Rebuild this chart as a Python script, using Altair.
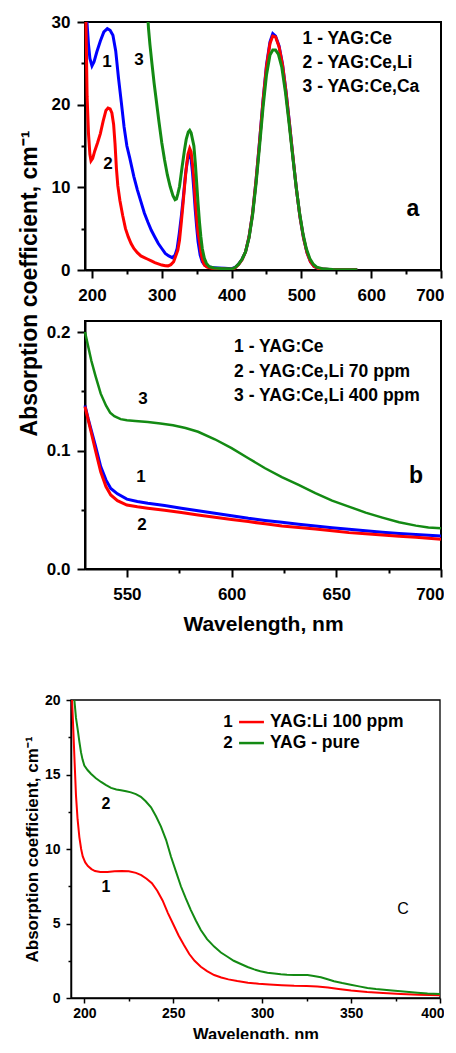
import altair as alt
import pandas as pd

FONT = "Liberation Sans"
BLUE, RED, GREEN = "#0000ff", "#ff0000", "#138a13"

# ---------------- panel a : (wavelength nm, absorption cm-1) ----------------
A_CE = [(192.8, 30), (195, 27.3), (197, 25.6), (200, 24.7), (203, 25.2),
        (207, 26.4), (212, 27.7), (217, 28.8), (222, 29.2), (226, 29.0), (230, 28.4), (234, 26.5),
        (238, 23.2), (242, 20.3), (246, 17.3), (250, 15.0), (254, 13.6), (260, 11.3), (265, 9.7),
        (270, 8.3), (275, 6.9), (280, 5.8), (285, 4.8), (290, 4.0), (295, 3.2), (300, 2.6),
        (305, 2.0), (310, 1.7), (315, 1.5), (319, 1.8), (322, 2.6), (325, 4.4), (328, 6.5),
        (331, 8.9), (334, 11.6), (337, 13.4), (339.5, 14.1), (342, 13.4), (344, 11.8), (346, 9.6),
        (348, 7.2), (350, 5.2), (352, 3.4), (355, 1.8), (358, 1.0), (362, 0.55), (366, 0.4),
        (372, 0.3), (380, 0.25), (390, 0.2), (400, 0.15), (405, 0.3), (410, 0.7), (415, 1.3),
        (420, 2.2), (425, 4.0), (430, 6.8), (435, 10.8), (440, 15.5), (445, 20.5), (450, 24.8),
        (455, 27.6), (459, 28.6), (463, 28.3), (468, 27.1), (473, 24.9), (478, 21.6), (483, 17.7),
        (488, 13.6), (493, 9.7), (498, 6.4), (503, 3.9), (508, 2.1), (513, 1.0), (518, 0.45),
        (525, 0.15), (540, 0.06), (560, 0.04), (580, 0.03)]
A_LI = [(191.4, 30), (193, 21), (195, 16.5), (197, 14.0), (198.6, 13.2), (201, 13.5),
        (204, 14.4), (208, 15.4), (212, 16.5), (216, 18.0), (220, 19.3), (223, 19.6), (226, 19.5),
        (228.5, 19.0), (231, 17.6), (233, 15.3), (235, 12.3), (237, 10.2), (240, 8.4), (244, 6.6),
        (248, 5.0), (252, 4.0), (256, 3.2), (260, 2.6), (265, 2.1), (270, 1.7), (275, 1.5),
        (280, 1.3), (285, 1.1), (290, 0.9), (295, 0.75), (300, 0.6), (305, 0.52), (309, 0.5),
        (313, 0.65), (317, 1.0), (320, 1.7), (323, 2.4), (325.4, 3.6), (328, 5.8), (330, 7.6),
        (332.5, 10.0), (335, 12.3), (337.5, 14.0), (340, 14.7), (342, 14.3), (344, 12.8),
        (346, 11.0), (348, 8.3), (350, 6.2), (352, 4.4), (354, 3.5), (356, 2.2), (358, 1.3),
        (361, 0.6), (365, 0.35), (372, 0.22), (385, 0.15), (395, 0.1), (400, 0.1), (405, 0.25),
        (410, 0.65), (415, 1.25), (420, 2.2), (425, 4.0), (430, 6.8), (435, 10.8), (440, 15.4),
        (445, 20.4), (450, 24.6), (455, 27.4), (459, 28.3), (463, 28.2), (468, 27.0), (473, 24.8),
        (478, 21.5), (483, 17.6), (488, 13.6), (493, 9.7), (498, 6.4), (503, 3.9), (508, 2.1),
        (513, 1.0), (518, 0.45), (525, 0.15), (540, 0.05), (560, 0.03), (580, 0.03)]
A_CA = [(280.4, 30), (281, 29.2), (283, 27.3), (286, 24.9), (289, 22.6),
        (292, 20.6), (296, 17.9), (300, 15.4), (304, 13.3), (308, 11.5), (312, 10.1), (316, 9.0),
        (319, 8.5), (321, 8.6), (323, 9.2), (325.4, 10.1), (329, 12.4), (332.5, 14.5), (335, 15.8),
        (338, 16.7), (340, 16.9), (342, 16.6), (344, 15.8), (346, 15.0), (348, 13.0), (350, 10.5),
        (352, 8.0), (354, 5.8), (356, 4.0), (358, 2.6), (361, 1.4), (364, 0.8), (368, 0.4),
        (375, 0.25), (385, 0.18), (395, 0.14), (400, 0.12), (405, 0.3), (410, 0.7), (415, 1.3),
        (420, 2.2), (425, 3.9), (430, 6.6), (435, 10.4), (440, 14.9), (445, 19.6), (450, 23.6),
        (455, 26.0), (459, 26.6), (463, 26.6), (467, 26.1), (472, 24.5), (477, 21.6), (482, 18.0),
        (487, 14.2), (492, 10.4), (497, 7.1), (502, 4.5), (507, 2.6), (512, 1.4), (517, 0.7),
        (522, 0.35), (530, 0.15), (545, 0.06), (560, 0.04), (580, 0.03)]
A_NUMS = [("1", 221.5, 25.2), ("2", 223, 12.8), ("3", 267.5, 25.4)]
A_LEGEND = [("1 - YAG:Ce", 501.7, 27.9), ("2 - YAG:Ce,Li", 501.7, 25.0), ("3 - YAG:Ce,Ca", 501.7, 22.1)]
A_TAG = [("a", 659.8, 7.4)]

# ---------------- panel b ----------------
B_CE = [(530, 0.138), (531.5, 0.127), (533, 0.117), (535, 0.104), (537.5, 0.0865), (540, 0.0752),
        (542.3, 0.068), (545.5, 0.0634), (550, 0.059), (555, 0.057), (560, 0.0555), (568, 0.0535),
        (576, 0.0513), (584, 0.0492), (592, 0.047), (600, 0.045), (608, 0.0428), (616, 0.041),
        (624, 0.0394), (632, 0.0378), (640, 0.0363), (648, 0.0349), (656, 0.0335), (664, 0.0322),
        (672, 0.031), (680, 0.03), (688, 0.0292), (694, 0.0285), (700, 0.0279)]
B_LI70 = [(530, 0.137), (531.5, 0.126), (533, 0.115), (535, 0.1), (537.5, 0.082), (540, 0.0696),
          (542.3, 0.0625), (545.5, 0.0577), (550, 0.054), (555, 0.0525), (560, 0.0513), (568, 0.0495),
          (576, 0.0476), (584, 0.0456), (592, 0.0437), (600, 0.0418), (608, 0.04), (616, 0.0381),
          (624, 0.0363), (632, 0.035), (640, 0.0338), (648, 0.0322), (656, 0.0307), (664, 0.0297),
          (672, 0.0287), (680, 0.0277), (688, 0.0268), (694, 0.0259), (700, 0.0251)]
B_LI400 = [(530, 0.2), (531.5, 0.188), (533, 0.176), (535, 0.163), (537.5, 0.148), (540, 0.138),
           (542, 0.132), (544, 0.129), (547, 0.1265), (550, 0.1255), (554, 0.125), (560, 0.124),
           (566, 0.1228), (572, 0.1213), (578, 0.119), (584, 0.1158), (592, 0.1095), (600, 0.102),
           (608, 0.0935), (616, 0.085), (624, 0.0775), (632, 0.071), (640, 0.064), (648, 0.0577),
           (656, 0.0527), (664, 0.0476), (672, 0.0434), (680, 0.0394), (688, 0.0366), (694, 0.035),
           (700, 0.0344)]
B_NUMS = [("3", 557.7, 0.1435), ("1", 556.7, 0.0776), ("2", 557.2, 0.0371)]
B_LEGEND = [("1 - YAG:Ce", 601.2, 0.1873), ("2 - YAG:Ce,Li 70 ppm", 601.2, 0.1662),
            ("3 - YAG:Ce,Li 400 ppm", 601.2, 0.146)]
B_TAG = [("b", 688.1, 0.0785)]

# ---------------- panel c ----------------
C_LI = [(193.1, 20), (193.8, 18), (194.4, 16.2), (195.3, 13.6), (196.2, 12.0), (197.2, 10.8),
        (198.2, 10.0), (199.1, 9.5), (200.5, 9.1), (202, 8.85), (204, 8.65), (206, 8.52), (209, 8.45),
        (213, 8.45), (217, 8.5), (221, 8.52), (225, 8.5), (229, 8.4), (232, 8.25), (235, 8.0),
        (238, 7.7), (241, 7.2), (244, 6.55), (247, 5.7), (250, 4.95), (253, 4.2), (256, 3.55),
        (259, 2.95), (262, 2.5), (265.5, 2.1), (269, 1.8), (273, 1.54), (277, 1.38), (281, 1.25),
        (286, 1.14), (292, 1.03), (298, 0.95), (304, 0.9), (311, 0.86), (318, 0.82), (325, 0.8),
        (331, 0.77), (337, 0.7), (343, 0.6), (350, 0.5), (359, 0.4), (368, 0.34), (378, 0.27),
        (388, 0.22), (400, 0.18)]
C_PURE = [(194.4, 20), (195.3, 18.8), (196.3, 18.0), (197.2, 17.2), (198.1, 16.5), (199, 16.0),
          (200, 15.6), (201.8, 15.3), (203.7, 15.05), (206.5, 14.75), (209.4, 14.5), (212, 14.3),
          (215, 14.1), (218, 14.0), (220.6, 13.95), (223.5, 13.88), (226.2, 13.8), (229, 13.68),
          (231.8, 13.5), (234.5, 13.2), (237.5, 12.8), (240.3, 12.2), (243.1, 11.5), (246, 10.6),
          (248.7, 9.5), (251.5, 8.5), (254.3, 7.5), (257, 6.7), (259.9, 5.9), (262.7, 5.2),
          (265.5, 4.56), (269, 3.95), (273, 3.45), (276.8, 3.05), (280.5, 2.77), (284, 2.5),
          (288, 2.28), (291.8, 2.08), (295.5, 1.92), (299, 1.8), (303, 1.7), (306.8, 1.64),
          (310.5, 1.59), (314, 1.56), (318, 1.54), (322, 1.55), (325.5, 1.54), (329, 1.48),
          (333, 1.39), (336.8, 1.26), (340.4, 1.12), (345, 1.0), (349.8, 0.89), (354.5, 0.78),
          (359.2, 0.67), (364, 0.6), (368.5, 0.55), (373, 0.5), (377.9, 0.45), (382.6, 0.4),
          (387.3, 0.35), (393, 0.3), (400, 0.26)]
C_NUMS = [("2", 212.2, 13.02), ("1", 212.2, 7.45)]
C_LEG_NUMS = [("1", 280.8, 18.52), ("2", 280.8, 17.11)]
C_LEG_TEXT = [("YAG:Li 100 ppm", 304.4, 18.52), ("YAG - pure", 304.4, 17.11)]
C_LEG_LINES = [(287.0, 301.0, 18.52, RED), (287.0, 301.0, 17.11, GREEN)]
C_TAG = [("C", 379.2, 5.97)]


def pts(pairs):
    return pd.DataFrame(pairs, columns=["x", "y"])


def txt(rows):
    return pd.DataFrame(rows, columns=["t", "x", "y"])


def major_axis(values, size, tick, w, pad, fmt, **kw):
    d = dict(values=values, format=fmt, grid=False, tickSize=tick,
             tickWidth=w, domainWidth=w, tickColor="black", domainColor="black",
             labelColor="black", labelFont=FONT, labelFontSize=size, labelFontWeight="bold",
             labelPadding=pad, labelOverlap=False, labelFlush=False,
             titleFont=FONT, titleFontWeight="bold", titleColor="black")
    d.update(kw)
    return alt.Axis(**d)


def minor_axis(values, orient, tick, w, **kw):
    return alt.Axis(values=values, orient=orient, grid=False, labels=False, domain=False,
                    tickSize=tick, tickWidth=w, tickColor="black", **kw)


class Panel:
    def __init__(self, sx, sy, ax_maj, ax_min, ay_maj, ay_min, xtitle, ytitle):
        self.sx, self.sy = sx, sy
        self.ax = (ax_maj, ax_min)
        self.ay = (ay_maj, ay_min)
        self.xtitle, self.ytitle = xtitle, ytitle

    def x(self, kind):
        if kind == "major":
            return alt.X("x:Q", scale=self.sx, axis=self.ax[0], title=self.xtitle)
        if kind == "minor":
            return alt.X("x:Q", scale=self.sx, axis=self.ax[1], title=None)
        return alt.X("x:Q", scale=self.sx, axis=None)

    def y(self, kind):
        if kind == "major":
            return alt.Y("y:Q", scale=self.sy, axis=self.ay[0], title=self.ytitle)
        if kind == "minor":
            return alt.Y("y:Q", scale=self.sy, axis=self.ay[1], title=None)
        return alt.Y("y:Q", scale=self.sy, axis=None)

    def frame(self, xd, yd, w, kind):
        f = pd.DataFrame({"x": [xd[0]], "x2": [xd[1]], "y": [yd[0]], "y2": [yd[1]]})
        op = 1 if kind == "major" else 0
        return alt.Chart(f).mark_rect(fillOpacity=0, stroke="black", strokeWidth=w,
                                      strokeOpacity=op).encode(
            x=self.x(kind), x2="x2:Q", y=self.y(kind), y2="y2:Q")

    def line(self, pairs, color, w):
        return alt.Chart(pts(pairs)).mark_line(color=color, strokeWidth=w, clip=True).encode(
            x=self.x(None), y=self.y(None))

    def label(self, rows, size, align="center", weight="bold"):
        return alt.Chart(txt(rows)).mark_text(font=FONT, fontSize=size, fontWeight=weight,
                                             align=align, baseline="middle", color="black").encode(
            x=self.x(None), y=self.y(None), text="t:N")


# ---- panel a ----
XA_D, YA_D = [190, 700], [0, 30]
PA = Panel(
    alt.Scale(domain=XA_D, range=[14, 370], nice=False, zero=False),
    alt.Scale(domain=YA_D, nice=False, zero=False),
    major_axis([200, 300, 400, 500, 600, 700], 17, 8, 2, 9, "d", orient="bottom",
               labelFlush=True, labelFlushOffset=3),
    minor_axis([250, 350, 450, 550, 650], "bottom", 4, 2),
    major_axis([0, 10, 20, 30], 17, 8, 2, 7, "d", orient="left", offset=-14,
               titleFontSize=23, titleAngle=270, titleAlign="center", titleBaseline="bottom",
               titleX=-44, titleY=261),
    minor_axis([5, 15, 25], "left", 4, 2, offset=-14),
    None, "Absorption coefficient, cm\u207b\u00b9")
pa = alt.layer(
    PA.frame(XA_D, YA_D, 2, "major"), PA.frame(XA_D, YA_D, 2, "minor"),
    PA.line(A_CE, BLUE, 3), PA.line(A_LI, RED, 3), PA.line(A_CA, GREEN, 3),
    PA.label(A_NUMS, 17), PA.label(A_LEGEND, 17.5, "left"), PA.label(A_TAG, 23),
).resolve_axis(x="independent", y="independent").properties(width=370, height=248)

# ---- panel b ----
XB_D, YB_D = [530, 700], [0, 0.2093]
PB = Panel(
    alt.Scale(domain=XB_D, range=[14, 370], nice=False, zero=False),
    alt.Scale(domain=YB_D, nice=False, zero=False),
    major_axis([550, 600, 650, 700], 17, 8, 2, 9, "d", orient="bottom",
               titleFontSize=21, titlePadding=11, labelFlush=True, labelFlushOffset=3),
    minor_axis([575, 625, 675], "bottom", 4, 2),
    major_axis([0, 0.1, 0.2], 17, 8, 2, 7, ".1f", orient="left", offset=-14),
    minor_axis([0.05, 0.15], "left", 4, 2, offset=-14),
    "Wavelength, nm", None)
pb = alt.layer(
    PB.frame(XB_D, YB_D, 2, "major"), PB.frame(XB_D, YB_D, 2, "minor"),
    PB.line(B_CE, BLUE, 3), PB.line(B_LI70, RED, 3), PB.line(B_LI400, GREEN, 2.5),
    PB.label(B_NUMS, 17), PB.label(B_LEGEND, 17.5, "left"), PB.label(B_TAG, 23),
).resolve_axis(x="independent", y="independent").properties(width=370, height=248)

# ---- panel c ----
XC_D, YC_D = [192.5, 400], [0, 20]
PC = Panel(
    alt.Scale(domain=XC_D, nice=False, zero=False),
    alt.Scale(domain=YC_D, range=[378, 80], nice=False, zero=False),
    major_axis([200, 250, 300, 350, 400], 14, 5, 1.5, 3, "d", orient="bottom",
               titleFontSize=16.5, titlePadding=6, labelFlush=True, labelFlushOffset=4),
    minor_axis([225, 275, 325, 375], "bottom", 3, 1.5),
    major_axis([0, 5, 10, 15, 20], 14, 5, 1.5, 6, "d", orient="left",
               titleFontSize=17, titleAngle=270, titleAlign="center", titleBaseline="bottom",
               titleX=-30, titleY=229),
    minor_axis([2.5, 7.5, 12.5, 17.5], "left", 3, 1.5),
    "Wavelength, nm", "Absorption coefficient, cm\u207b\u00b9")
leg_lines = pd.DataFrame(C_LEG_LINES, columns=["x", "x2", "y", "c"])
pc = alt.layer(
    PC.frame(XC_D, YC_D, 1.3, "major"), PC.frame(XC_D, YC_D, 1.3, "minor"),
    PC.line(C_LI, RED, 2), PC.line(C_PURE, GREEN, 2),
    alt.Chart(leg_lines).mark_rule(strokeWidth=2.5).encode(
        x=PC.x(None), x2="x2:Q", y=PC.y(None), color=alt.Color("c:N", scale=None)),
    PC.label(C_NUMS, 16), PC.label(C_LEG_NUMS, 17), PC.label(C_LEG_TEXT, 17.5, "left"),
    PC.label(C_TAG, 16, weight="normal"),
).resolve_axis(x="independent", y="independent").properties(width=369, height=378)

chart = alt.vconcat(pa, pb, pc, spacing=51, bounds="flush").properties(
    padding={"left": 9, "top": 5, "right": 0, "bottom": -4}, background="white"
).configure_view(strokeWidth=0)

chart.save("out.html", embed_options={"renderer": "svg", "actions": False})
